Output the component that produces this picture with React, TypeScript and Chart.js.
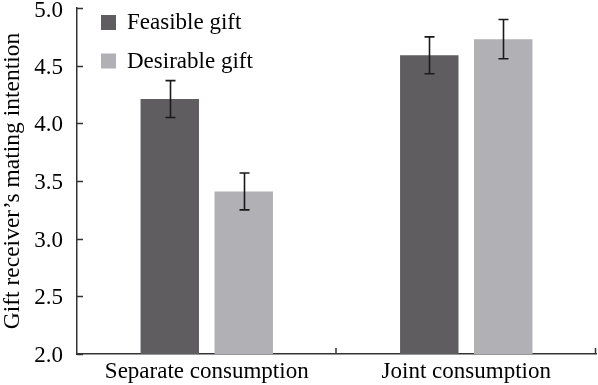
import React, { useEffect, useRef } from "react";
import { Chart, registerables } from "chart.js";

Chart.register(...registerables);

const categories = ["Separate consumption", "Joint consumption"];
const seriesNames = ["Feasible gift", "Desirable gift"];
const feasibleMeans = [4.21, 4.59];
const desirableMeans = [3.41, 4.73];
const feasibleLow = [4.05, 4.43];
const feasibleHigh = [4.37, 4.75];
const desirableLow = [3.25, 4.56];
const desirableHigh = [3.57, 4.9];
const yTitle = "Gift receiver\u2019s mating intention";
const colors = ["#5f5d60", "#b1b0b4"];

const FONT = "'Liberation Serif', 'Times New Roman', serif";

export default function App() {
  const ref = useRef<HTMLCanvasElement>(null);
  useEffect(() => {
    if (!ref.current) return;
    const lows = [feasibleLow, desirableLow];
    const highs = [feasibleHigh, desirableHigh];
    const extras = {
      id: "extras",
      afterDatasetsDraw(chart: any) {
        const ctx = chart.ctx;
        const y = chart.scales.y;
        const area = chart.chartArea;
        ctx.save();
        // error bars
        ctx.strokeStyle = "#1a1a1a";
        ctx.lineWidth = 1.6;
        chart.data.datasets.forEach((ds: any, di: number) => {
          const meta = chart.getDatasetMeta(di);
          meta.data.forEach((bar: any, i: number) => {
            const cx = Math.round(bar.x) + 0.5;
            const yt = y.getPixelForValue(highs[di][i]);
            const yb = y.getPixelForValue(lows[di][i]);
            ctx.beginPath();
            ctx.moveTo(cx, yt);
            ctx.lineTo(cx, yb);
            ctx.moveTo(cx - 5, yt);
            ctx.lineTo(cx + 5, yt);
            ctx.moveTo(cx - 5, yb);
            ctx.lineTo(cx + 5, yb);
            ctx.stroke();
          });
        });
        // axis ticks (inside) and y tick labels
        ctx.strokeStyle = "#333";
        ctx.lineWidth = 1.5;
        ctx.font = `23px ${FONT}`;
        ctx.fillStyle = "#000";
        ctx.textAlign = "right";
        ctx.textBaseline = "middle";
        y.ticks.forEach((t: any) => {
          const py = Math.round(y.getPixelForValue(t.value)) + 0.5;
          ctx.beginPath();
          ctx.moveTo(area.left, py);
          ctx.lineTo(area.left + 6, py);
          ctx.stroke();
          ctx.fillText(Number(t.value).toFixed(1), area.left - 14, Math.max(py + 1, 11));
        });
        const n = categories.length;
        for (let i = 1; i <= n; i++) {
          const px = area.left + ((area.right - area.left) * i) / n;
          ctx.beginPath();
          ctx.moveTo(px - 0.5, area.bottom);
          ctx.lineTo(px - 0.5, area.bottom - 6);
          ctx.stroke();
        }
        // legend
        ctx.textAlign = "left";
        seriesNames.forEach((name, i) => {
          const ly = 22 + i * 38.5;
          ctx.fillStyle = colors[i];
          ctx.fillRect(101, ly - 7, 15, 15);
          ctx.fillStyle = "#000";
          ctx.fillText(name, 127, ly + 1);
        });
        // y title
        ctx.font = `23.5px ${FONT}`;
        ctx.translate(13, (area.top + area.bottom) / 2);
        ctx.rotate(-Math.PI / 2);
        ctx.textAlign = "center";
        ctx.fillText(yTitle, 0, 0);
        ctx.restore();
      },
    };
    const chart = new Chart(ref.current, {
      type: "bar",
      data: {
        labels: categories,
        datasets: [
          {
            label: seriesNames[0],
            data: feasibleMeans,
            backgroundColor: colors[0],
            borderWidth: 0,
          },
          {
            label: seriesNames[1],
            data: desirableMeans,
            backgroundColor: colors[1],
            borderWidth: 0,
          },
        ],
      },
      options: {
        responsive: false,
        animation: false,
        layout: { padding: { left: 0, right: 2, top: 8, bottom: 0 } },
        plugins: { legend: { display: false }, tooltip: { enabled: false } },
        datasets: { bar: { categoryPercentage: 0.57, barPercentage: 0.79 } },
        scales: {
          x: {
            grid: { display: false, drawTicks: false },
            border: { display: true, color: "#333", width: 1.5 },
            ticks: { color: "#000", font: { family: FONT, size: 23 }, padding: 4 },
            afterFit(s: any) {
              s.height = 31;
              s.paddingLeft = 0;
              s.paddingRight = 0;
            },
          },
          y: {
            min: 2,
            max: 5,
            grid: { display: false, drawTicks: false },
            border: { display: true, color: "#333", width: 1.5 },
            ticks: {
              stepSize: 0.5,
              display: false,
            },
            afterFit(s: any) {
              s.width = 77;
              s.paddingTop = 0;
              s.paddingBottom = 0;
            },
          },
        },
      },
      plugins: [extras],
    });
    return () => chart.destroy();
  }, []);
  return (
    <div style={{ position: "fixed", left: 0, top: 0, width: 598, height: 385, background: "#fff" }}>
      <canvas ref={ref} width={598} height={385} />
    </div>
  );
}
